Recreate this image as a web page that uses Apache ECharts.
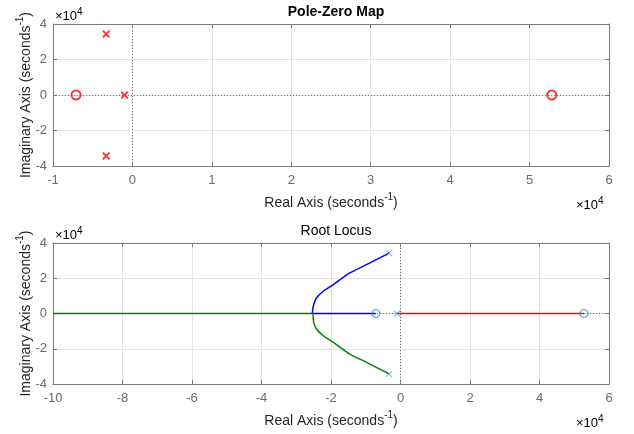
<!DOCTYPE html>
<html>
<head>
<meta charset="utf-8">
<script src="https://cdn.jsdelivr.net/npm/echarts@6/dist/echarts.min.js"></script>
<style>
html,body{margin:0;padding:0;background:#fff;}
#c{width:634px;height:434px;}
</style>
</head>
<body>
<div id="c"></div>
<script>
// ---- data (seconds^-1) ----
const poleRe = [-3300, -3300, -1000];
const poleIm = [34300, -34300, 0];
const zeroRe = [-7100, 52800];
const zeroIm = [0, 0];
// root locus branches
const upperBranchRe = [-3300, -9800, -14600, -19400, -22300, -24200, -25000, -25400, -7100];
const upperBranchIm = [34300, 27700, 23000, 16300, 12500, 8800, 4900, 0, 0];
const lowerBranchRe = [-3300, -9800, -14600, -19400, -22300, -24200, -25000, -25400, -100000];
const lowerBranchIm = [-34300, -27700, -23000, -16300, -12500, -8800, -4900, 0, 0];
const realBranchRe = [-1000, 52800];
const realBranchIm = [0, 0];
// axes
const pzX = {min: -10000, max: 60000, interval: 10000};
const rlX = {min: -100000, max: 60000, interval: 20000};
const yR = {min: -40000, max: 40000, interval: 20000};
const scaleExp = 10000;

const zip = (a, b) => a.map((v, i) => [v, b[i]]);
const FONT = "'Liberation Sans', Arial, Helvetica, sans-serif";
const AX = '#7a7a7a';
const LBL = '#6a6a6a';
const NAME = '#262626';
const GRIDC = '#e3e3e3';
const XSYM = 'path://M0,1.6L1.6,0L5,3.4L8.4,0L10,1.6L6.6,5L10,8.4L8.4,10L5,6.6L1.6,10L0,8.4L3.4,5Z';
const XSYM_THIN = 'path://M0,0.8L0.8,0L5,4.2L9.2,0L10,0.8L5.8,5L10,9.2L9.2,10L5,5.8L0.8,10L0,9.2L4.2,5Z';

const fmt = v => String(Math.round(v / scaleExp * 10) / 10);
const supRich = {
  n: {fontSize: 14, color: NAME, fontFamily: FONT, lineHeight: 18, verticalAlign: 'bottom'},
  s: {fontSize: 10, color: NAME, fontFamily: FONT, lineHeight: 12, verticalAlign: 'top'}
};
const axisName = '{n|Real Axis (seconds}{s|-1}{n|)}';
const yName = '{n|Imaginary Axis (seconds}{s|-1}{n|)}';

function mainX(g, r) {
  return {
    type: 'value', gridIndex: g, position: 'bottom', min: r.min, max: r.max, interval: r.interval,
    axisLine: {show: true, onZero: false, lineStyle: {color: AX, width: 1}},
    axisTick: {show: true, inside: true, length: 4, lineStyle: {color: AX}},
    axisLabel: {show: true, margin: 8, color: LBL, fontSize: 13, fontFamily: FONT, formatter: fmt},
    splitLine: {show: true, lineStyle: {color: GRIDC, width: 1}},
    name: axisName, nameLocation: 'middle', nameGap: 26, nameMoveOverlap: false,
    nameTextStyle: {rich: supRich}
  };
}
function secX(g, r) {
  return {
    type: 'value', gridIndex: g, position: 'top', min: r.min, max: r.max, interval: r.interval,
    axisLine: {show: true, onZero: false, lineStyle: {color: AX, width: 1}},
    axisTick: {show: true, inside: true, length: 4, lineStyle: {color: AX}},
    axisLabel: {show: false}, splitLine: {show: false}
  };
}
function mainY(g) {
  return {
    type: 'value', gridIndex: g, position: 'left', min: yR.min, max: yR.max, interval: yR.interval,
    axisLine: {show: true, onZero: false, lineStyle: {color: AX, width: 1}},
    axisTick: {show: true, inside: true, length: 4, lineStyle: {color: AX}},
    axisLabel: {show: true, margin: 6, color: LBL, fontSize: 13, fontFamily: FONT, formatter: fmt},
    splitLine: {show: true, lineStyle: {color: GRIDC, width: 1}},
    name: yName, nameLocation: 'middle', nameGap: 20, nameRotate: 90, nameMoveOverlap: false,
    nameTextStyle: {rich: supRich}
  };
}
function secY(g) {
  return {
    type: 'value', gridIndex: g, position: 'right', min: yR.min, max: yR.max, interval: yR.interval,
    axisLine: {show: true, onZero: false, lineStyle: {color: AX, width: 1}},
    axisTick: {show: true, inside: true, length: 4, lineStyle: {color: AX}},
    axisLabel: {show: false}, splitLine: {show: false}
  };
}
const zeroLines = {
  silent: true, symbol: ['none', 'none'], label: {show: false}, z: 1,
  lineStyle: {type: [1, 2], color: '#777777', width: 1},
  emphasis: {disabled: true},
  data: [{xAxis: 0}, {yAxis: 0}]
};
const expRich = {
  a: {fontSize: 13, color: LBL, fontFamily: FONT, lineHeight: 16, verticalAlign: 'bottom'},
  b: {fontSize: 10, color: LBL, fontFamily: FONT, lineHeight: 10, verticalAlign: 'top'}
};
function expText(x, y) {
  return {type: 'text', x: x, y: y, silent: true,
    style: {text: '{a|×10}{b|4}', rich: expRich, verticalAlign: 'top', align: 'left'}};
}

const chart = echarts.init(document.getElementById('c'), null, {renderer: 'canvas'});
chart.setOption({
  animation: false,
  backgroundColor: '#ffffff',
  title: [
    {text: 'Pole-Zero Map', left: 331, top: 0, textAlign: 'center',
     textStyle: {fontSize: 14, fontWeight: 'bold', color: '#000', fontFamily: FONT}},
    {text: 'Root Locus', left: 331, top: 219, textAlign: 'center',
     textStyle: {fontSize: 14, fontWeight: 'normal', color: '#000', fontFamily: FONT}}
  ],
  grid: [
    {left: 53, right: 25, top: 24, height: 142},
    {left: 53, right: 25, top: 243, height: 141}
  ],
  xAxis: [mainX(0, pzX), secX(0, pzX), mainX(1, rlX), secX(1, rlX)],
  yAxis: [mainY(0), secY(0), mainY(1), secY(1)],
  graphic: [
    expText(55, 7), expText(576, 196),
    expText(55, 226), expText(576, 414)
  ],
  series: [
    {type: 'scatter', xAxisIndex: 0, yAxisIndex: 0, data: zip(poleRe, poleIm),
     symbol: XSYM, symbolSize: 8, itemStyle: {color: '#ff0000'}, z: 5, markLine: zeroLines},
    {type: 'scatter', xAxisIndex: 0, yAxisIndex: 0, data: zip(zeroRe, zeroIm),
     symbol: 'circle', symbolSize: 9, itemStyle: {color: 'rgba(0,0,0,0)', borderColor: '#ff0000', borderWidth: 2}, z: 5},
    {type: 'line', xAxisIndex: 2, yAxisIndex: 2, data: zip(upperBranchRe, upperBranchIm),
     showSymbol: false, symbol: 'none', smooth: 0.25, lineStyle: {color: '#0000ff', width: 1.5}, z: 3},
    {type: 'line', xAxisIndex: 2, yAxisIndex: 2, data: zip(lowerBranchRe, lowerBranchIm),
     showSymbol: false, symbol: 'none', smooth: 0.25, lineStyle: {color: '#008000', width: 1.5}, z: 3},
    {type: 'line', xAxisIndex: 2, yAxisIndex: 2, data: zip(realBranchRe, realBranchIm),
     showSymbol: false, symbol: 'none', lineStyle: {color: '#ff0000', width: 1.5}, z: 3},
    {type: 'scatter', xAxisIndex: 2, yAxisIndex: 2, data: zip(poleRe, poleIm),
     symbol: XSYM_THIN, symbolSize: 7, itemStyle: {color: '#2f86d6'}, z: 5, markLine: zeroLines},
    {type: 'scatter', xAxisIndex: 2, yAxisIndex: 2, data: zip(zeroRe, zeroIm),
     symbol: 'circle', symbolSize: 8, itemStyle: {color: 'rgba(0,0,0,0)', borderColor: '#2f86d6', borderWidth: 1.2}, z: 5}
  ]
});
</script>
</body>
</html>
